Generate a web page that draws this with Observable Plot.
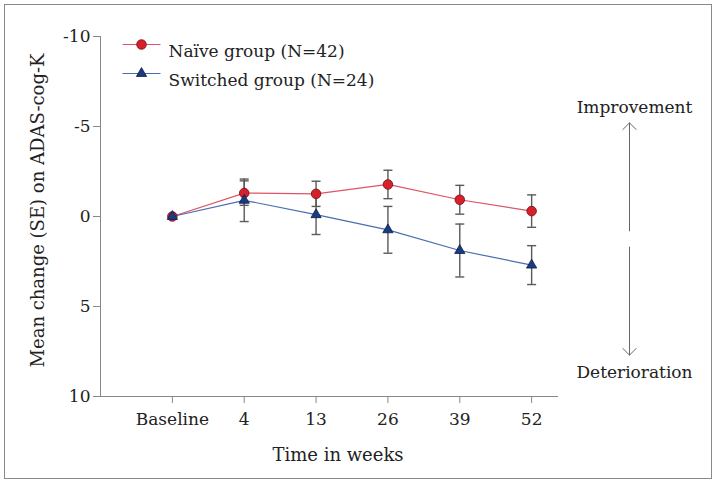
<!DOCTYPE html>
<html>
<head>
<meta charset="utf-8">
<script src="https://cdn.jsdelivr.net/npm/d3@7"></script>
<script src="https://cdn.jsdelivr.net/npm/@observablehq/plot@0.6"></script>
<style>
  body { margin: 0; background: #fff; }
  #wrap { position: relative; width: 717px; height: 484px; }
  #border { position: absolute; left: 4px; top: 4px; width: 706px; height: 473px; border: 1.5px solid #8a8a8a; pointer-events: none; }
  #wrap svg text { font-family: "DejaVu Serif", serif !important; }
</style>
</head>
<body>
<div id="wrap"><div id="border"></div></div>
<script>
// ---- data ----
const weeks = ["Baseline", "4", "13", "26", "39", "52"];
const naiveMean = [0, -1.3, -1.26, -1.78, -0.93, -0.3];
const naiveSE = [0, 0.68, 0.7, 0.79, 0.8, 0.9];
const switchedMean = [0, -0.9, -0.1, 0.74, 1.89, 2.7];
const switchedSE = [0, 1.18, 1.1, 1.3, 1.47, 1.08];
const seriesNames = ["Naïve group (N=42)", "Switched group (N=24)"];
const yTicks = [-10, -5, 0, 5, 10];
const xTitle = "Time in weeks";
const yTitle = "Mean change (SE) on ADAS-cog-K";
const annotationLabels = ["Improvement", "Deterioration"];
const arrowSpans = [{from: 0.8, to: -5.2}, {from: 1.7, to: 7.7}];

const naive = weeks.map((w, i) => ({i, m: naiveMean[i], se: naiveSE[i]}));
const switched = weeks.map((w, i) => ({i, m: switchedMean[i], se: switchedSE[i]}));

const capSymbol = {
  draw(ctx, size) {
    const w = Math.sqrt(size / Math.PI);
    ctx.moveTo(-w, 0);
    ctx.lineTo(w, 0);
  }
};

const red = "#d8202a", redLine = "#dd5566";
const blue = "#1b3a82", blueLine = "#4a6db0";
const errColor = "#5a5a5a";
const xEnd = 5.36;
const fs = 17;

function errMarks(data) {
  const d = data.filter(r => r.se > 0);
  return [
    Plot.ruleX(d, {x: "i", y1: r => r.m - r.se, y2: r => r.m + r.se, stroke: errColor, strokeWidth: 1.4}),
    Plot.dot(d, {x: "i", y: r => r.m - r.se, symbol: capSymbol, r: 4.5, stroke: errColor, strokeWidth: 1.4}),
    Plot.dot(d, {x: "i", y: r => r.m + r.se, symbol: capSymbol, r: 4.5, stroke: errColor, strokeWidth: 1.4})
  ];
}

const chart = Plot.plot({
  width: 717,
  height: 484,
  marginLeft: 100,
  marginTop: 36,
  marginBottom: 88,
  marginRight: 160,
  style: {fontFamily: "'DejaVu Serif', serif", color: "#222", background: "transparent"},
  x: {type: "linear", domain: [-1, xEnd]},
  y: {domain: [10, -10]},
  marks: [
    Plot.frame({anchor: "left", stroke: "#888"}),
    Plot.frame({anchor: "bottom", stroke: "#888"}),
    Plot.axisY({ticks: yTicks, tickSize: 7, tickPadding: 3, tickFormat: d => String(d), fontSize: fs, stroke: "#888", label: null}),
    Plot.text([yTitle], {frameAnchor: "left", dx: -62, dy: -6, text: d => d, rotate: -90, textAnchor: "middle", lineAnchor: "middle", fontSize: 18, fill: "#222"}),
    Plot.axisX({ticks: d3.range(weeks.length), tickSize: 7, tickPadding: 9, tickFormat: i => weeks[i], fontSize: fs, stroke: "#888", label: null}),
    Plot.text([xTitle], {frameAnchor: "bottom", dx: 9, dy: 59, text: d => d, textAnchor: "middle", lineAnchor: "middle", fontSize: 18, fill: "#222"}),
    Plot.line(naive, {x: "i", y: "m", stroke: redLine, strokeWidth: 1.2}),
    Plot.line(switched, {x: "i", y: "m", stroke: blueLine, strokeWidth: 1.2}),
    ...errMarks(naive),
    ...errMarks(switched),
    Plot.dot(naive, {x: "i", y: "m", r: 4.8, fill: red, stroke: "#6a1015", strokeWidth: 0.8}),
    Plot.dot(switched, {x: "i", y: "m", r: 3.8, symbol: "triangle", fill: blue, stroke: "#0c1d4a", strokeWidth: 0.8}),
    // legend
    Plot.dot([seriesNames[0]], {frameAnchor: "top-left", dx: 41, dy: 8, symbol: capSymbol, r: 19, stroke: redLine, strokeWidth: 1.2}),
    Plot.dot([seriesNames[0]], {frameAnchor: "top-left", dx: 41, dy: 8, r: 4.8, fill: red, stroke: "#6a1015", strokeWidth: 0.8}),
    Plot.text([seriesNames[0]], {frameAnchor: "top-left", dx: 68, dy: 8, text: d => d, textAnchor: "start", fontSize: fs, fill: "#222"}),
    Plot.dot([seriesNames[1]], {frameAnchor: "top-left", dx: 41, dy: 37, symbol: capSymbol, r: 19, stroke: blueLine, strokeWidth: 1.2}),
    Plot.dot([seriesNames[1]], {frameAnchor: "top-left", dx: 41, dy: 37, r: 3.8, symbol: "triangle", fill: blue, stroke: "#0c1d4a", strokeWidth: 0.8}),
    Plot.text([seriesNames[1]], {frameAnchor: "top-left", dx: 68, dy: 37, text: d => d, textAnchor: "start", fontSize: fs, fill: "#222"}),
    // annotations
    Plot.text([annotationLabels[0]], {frameAnchor: "top-right", dx: 77, dy: 71, text: d => d, textAnchor: "middle", lineAnchor: "middle", fontSize: fs, fill: "#222"}),
    Plot.text([annotationLabels[1]], {frameAnchor: "bottom-right", dx: 77, dy: -24, text: d => d, textAnchor: "middle", lineAnchor: "middle", fontSize: fs, fill: "#222"}),
    Plot.arrow(arrowSpans, {x1: xEnd, x2: xEnd, y1: "from", y2: "to", dx: 72, stroke: "#666", strokeWidth: 1, headAngle: 90, headLength: 14, clip: false})
  ]
});
document.getElementById("wrap").prepend(chart);
</script>
</body>
</html>
